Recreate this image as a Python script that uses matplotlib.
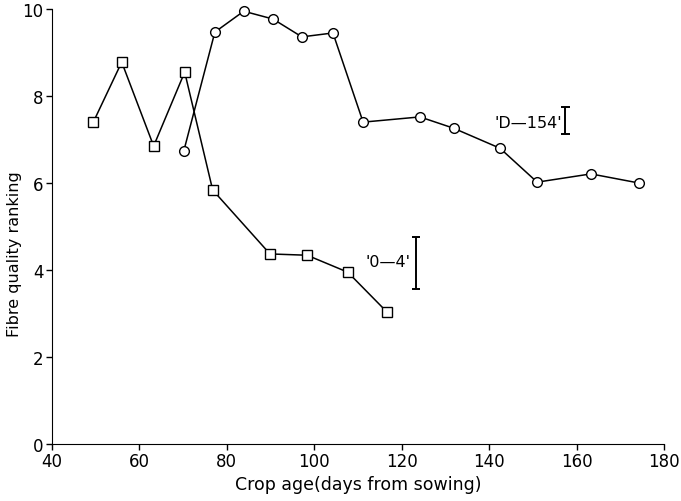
import matplotlib
matplotlib.use("Agg")
import matplotlib.pyplot as plt

# '0-4' series (squares)
age_04 = [49.5, 56.0, 63.3, 70.4, 76.8, 89.9, 98.4, 107.7, 116.7]
rank_04 = [7.40, 8.78, 6.85, 8.55, 5.84, 4.37, 4.34, 3.95, 3.03]

# 'D-154' series (circles)
age_d154 = [70.2, 77.3, 83.9, 90.6, 97.2, 104.3, 111.2, 124.2, 131.9, 142.5, 151.0, 163.3, 174.3]
rank_d154 = [6.74, 9.47, 9.95, 9.77, 9.36, 9.45, 7.40, 7.52, 7.26, 6.80, 6.02, 6.21, 6.00]

# error bars (LSD)
err_x = [157.4, 123.3]
err_lo = [7.13, 3.56]
err_hi = [7.75, 4.76]

xticks = [40, 60, 80, 100, 120, 140, 160, 180]
yticks = [0, 2, 4, 6, 8, 10]

plt.rcParams['font.family'] = ['DejaVu Sans']
fig = plt.figure(figsize=(6.81, 5.02), dpi=100)
ax = fig.add_axes([0.076, 0.1135, 0.899, 0.8665])

ax.plot(age_04, rank_04, color='black', lw=1.1, marker='s', ms=7.5,
        mfc='white', mec='black', mew=1.0, zorder=3, clip_on=False)
ax.plot(age_d154, rank_d154, color='black', lw=1.1, marker='o', ms=7,
        mfc='white', mec='black', mew=1.0, zorder=3, clip_on=False)

for x, lo, hi in zip(err_x, err_lo, err_hi):
    ax.vlines(x, lo, hi, color='black', lw=1.4)
    ax.hlines([lo, hi], x - 1.0, x + 1.0, color='black', lw=1.4)

ax.text(156.6, 7.40, "'D\u2014154'", ha='right', va='center', fontsize=11.5)
ax.text(122.0, 4.20, "'0\u20144'", ha='right', va='center', fontsize=11.5)

ax.set_xlim(40, 180)
ax.set_ylim(0, 10)
ax.set_xticks(xticks)
ax.set_yticks(yticks)
ax.spines['top'].set_visible(False)
ax.spines['right'].set_visible(False)
ax.tick_params(direction='out', length=4, width=1, labelsize=12, pad=2)
ax.set_xlabel("Crop age(days from sowing)", fontsize=12.5, labelpad=3)
ax.set_ylabel("Fibre quality ranking", fontsize=11.5)
ax.yaxis.set_label_coords(-0.048, 0.44)

fig.savefig("out.png", dpi=100)
